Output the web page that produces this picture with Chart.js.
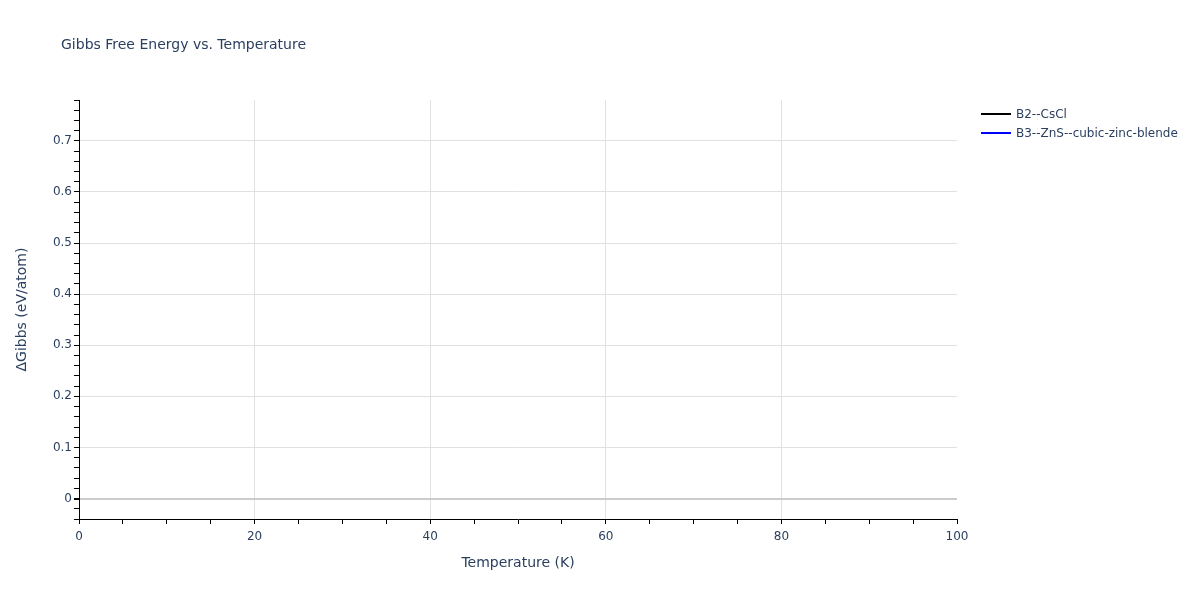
<!DOCTYPE html>
<html>
<head>
<meta charset="utf-8">
<script src="https://cdn.jsdelivr.net/npm/chart.js@4"></script>
<style>
  html, body { margin: 0; padding: 0; background: #fff; }
  #wrap { width: 1200px; height: 600px; }
</style>
</head>
<body>
<div id="wrap"><canvas id="myChart" width="1200" height="600"></canvas></div>
<script>
// data: no points are drawn in the plot area
var seriesNames = ['B2--CsCl', 'B3--ZnS--cubic-zinc-blende'];
var seriesColors = ['#000000', '#0000ff'];
var temperatures = [];
var gibbsCsCl = [];
var gibbsZnS = [];
var xTickLabels = [0, 20, 40, 60, 80, 100];
var yTickLabels = [0, 0.1, 0.2, 0.3, 0.4, 0.5, 0.6, 0.7];

var textColor = '#2a3f5f';
var fontFam = '"DejaVu Sans", Verdana, sans-serif';

function isMajor(v, step) {
    var r = v / step;
    return Math.abs(r - Math.round(r)) < 1e-6;
}

function toPoints(xs, ys) {
    var pts = [];
    for (var i = 0; i < xs.length; i++) pts.push({ x: xs[i], y: ys[i] });
    return pts;
}

// draws the title and the legend outside the plot area
var extras = {
    id: 'extras',
    afterDraw: function(chart) {
        var c = chart.ctx;
        c.save();
        c.fillStyle = textColor;
        c.textBaseline = 'middle';
        c.textAlign = 'left';
        c.font = '14px ' + fontFam;
        c.fillText('Gibbs Free Energy vs. Temperature', 61, 45);

        c.font = '12px ' + fontFam;
        chart.data.datasets.forEach(function(ds, i) {
            var y = 114 + i * 19;
            c.strokeStyle = ds.borderColor;
            c.lineWidth = 2;
            c.beginPath();
            c.moveTo(981, y);
            c.lineTo(1011, y);
            c.stroke();
            c.fillStyle = textColor;
            c.fillText(ds.label, 1016, y + 1);
        });
        c.restore();
    }
};

var ctx = document.getElementById('myChart').getContext('2d');

var myChart = new Chart(ctx, {
    type: 'line',
    data: {
        datasets: [{
            label: seriesNames[0],
            data: toPoints(temperatures, gibbsCsCl),
            borderColor: seriesColors[0],
            borderWidth: 2,
            pointRadius: 0,
            fill: false
        },
        {
            label: seriesNames[1],
            data: toPoints(temperatures, gibbsZnS),
            borderColor: seriesColors[1],
            borderWidth: 2,
            pointRadius: 0,
            fill: false
        }]
    },
    options: {
        responsive: false,
        animation: false,
        layout: { padding: { left: 0, top: 100, right: 243, bottom: 0 } },
        plugins: {
            legend: { display: false },
            title: { display: false },
            tooltip: { enabled: false }
        },
        scales: {
            x: {
                type: 'linear',
                min: 0,
                max: 100,
                afterFit: function(scale) { scale.height = 81; },
                border: { color: '#000', width: 1 },
                grid: {
                    tickLength: 5,
                    tickColor: '#000',
                    color: function(c) {
                        var v = c.tick.value;
                        if (v <= 0 || v >= 100) return 'rgba(0,0,0,0)';
                        return isMajor(v, 20) ? '#e0e0e0' : 'rgba(0,0,0,0)';
                    }
                },
                ticks: {
                    stepSize: 5,
                    autoSkip: false,
                    maxRotation: 0,
                    padding: 6,
                    color: textColor,
                    font: { family: fontFam, size: 12 },
                    callback: function(v) {
                        return xTickLabels.indexOf(Math.round(v)) >= 0 && isMajor(v, 20) ? String(Math.round(v)) : '';
                    }
                },
                title: {
                    display: true,
                    text: 'Temperature (K)',
                    color: textColor,
                    font: { family: fontFam, size: 14 },
                    padding: { top: 0, bottom: 28 }
                }
            },
            y: {
                type: 'linear',
                min: -0.04,
                max: 0.78,
                afterFit: function(scale) { scale.width = 79; },
                border: { color: '#000', width: 1 },
                grid: {
                    tickLength: 5,
                    tickColor: '#000',
                    lineWidth: function(c) {
                        return Math.abs(c.tick.value) < 1e-6 ? 2 : 1;
                    },
                    color: function(c) {
                        var v = c.tick.value;
                        if (Math.abs(v) < 1e-6) return '#cccccc';
                        return isMajor(v, 0.1) ? '#e0e0e0' : 'rgba(0,0,0,0)';
                    }
                },
                ticks: {
                    stepSize: 0.02,
                    autoSkip: false,
                    padding: 2,
                    color: textColor,
                    font: { family: fontFam, size: 12 },
                    callback: function(v) {
                        if (!isMajor(v, 0.1)) return '';
                        var r = Math.round(v * 10) / 10;
                        return yTickLabels.indexOf(r) >= 0 ? String(r) : '';
                    }
                },
                title: {
                    display: true,
                    text: '\u0394Gibbs (eV/atom)',
                    color: textColor,
                    font: { family: fontFam, size: 14 },
                    padding: { top: 13.6, bottom: 0 }
                }
            }
        }
    },
    plugins: [extras]
});
</script>
</body>
</html>
